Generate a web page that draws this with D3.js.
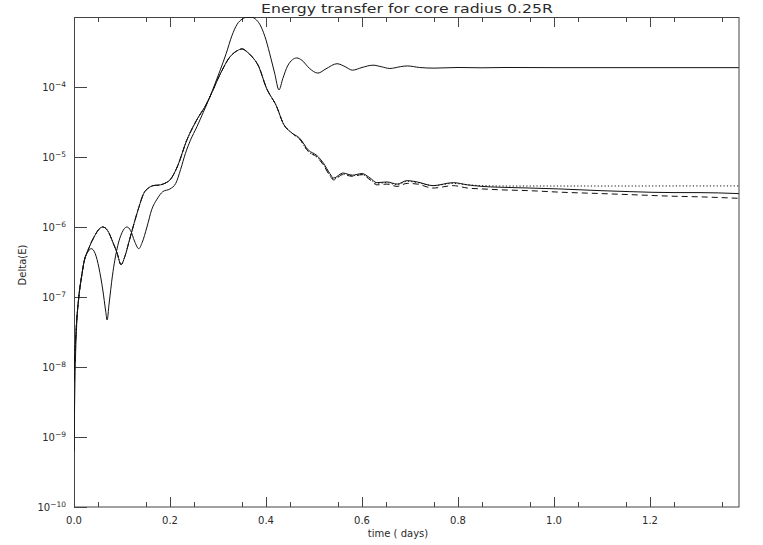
<!DOCTYPE html>
<html>
<head>
<meta charset="utf-8">
<script src="https://cdn.jsdelivr.net/npm/d3@7"></script>
<style>
  html, body { margin: 0; padding: 0; background: #fff; }
  svg { display: block; }
  text { font-family: "DejaVu Sans", sans-serif; fill: #2a2a2a; }
</style>
</head>
<body>
<svg id="chart" width="763" height="545"></svg>
<script>
// ---- data ----
const titleText = "Energy transfer for core radius 0.25R";
const xLabel = "time ( days)";
const yLabel = "Delta(E)";
const xTicksMajor = [0.0, 0.2, 0.4, 0.6, 0.8, 1.0, 1.2];
const xTickLabels = ["0.0", "0.2", "0.4", "0.6", "0.8", "1.0", "1.2"];
const yTicks = [1e-10, 1e-9, 1e-8, 1e-7, 1e-6, 1e-5, 1e-4];
const yTickExponents = ["-10", "-9", "-8", "-7", "-6", "-5", "-4"];

// upper solid curve
const tUpper = [0.000,0.002,0.005,0.010,0.016,0.021,0.028,0.036,0.044,0.052,0.060,0.066,0.069,0.073,0.080,0.090,0.100,0.110,0.118,0.126,0.135,0.142,0.152,0.162,0.173,0.185,0.200,0.212,0.222,0.232,0.242,0.256,0.269,0.283,0.294,0.304,0.317,0.329,0.340,0.350,0.360,0.370,0.380,0.390,0.400,0.410,0.418,0.427,0.435,0.445,0.455,0.464,0.475,0.490,0.508,0.525,0.548,0.565,0.580,0.600,0.623,0.640,0.658,0.680,0.694,0.720,0.750,0.800,0.850,0.900,1.000,1.100,1.200,1.300,1.385];
const eUpper = [6.3e-10,6.3e-9,3.2e-8,1.0e-7,2.0e-7,3.2e-7,4.3e-7,4.9e-7,4.2e-7,2.6e-7,1.26e-7,6.3e-8,4.7e-8,7.9e-8,2.0e-7,5.0e-7,8.3e-7,1.0e-6,8.9e-7,6.3e-7,4.9e-7,6.0e-7,1.0e-6,1.78e-6,2.5e-6,3.2e-6,3.5e-6,4.2e-6,6.6e-6,1.12e-5,1.7e-5,2.7e-5,4.3e-5,7.2e-5,1.12e-4,1.7e-4,3.0e-4,5.4e-4,7.9e-4,9.3e-4,9.9e-4,9.9e-4,9.1e-4,7.2e-4,4.7e-4,2.6e-4,1.58e-4,9.1e-5,1.32e-4,2.0e-4,2.45e-4,2.6e-4,2.4e-4,1.86e-4,1.58e-4,1.82e-4,2.15e-4,1.95e-4,1.74e-4,1.9e-4,2.05e-4,1.95e-4,1.84e-4,1.95e-4,2.0e-4,1.9e-4,1.86e-4,1.9e-4,1.88e-4,1.9e-4,1.89e-4,1.89e-4,1.89e-4,1.89e-4,1.89e-4];

// lower group: solid, dotted, dashed (shared times)
const tLower = [0.000,0.002,0.005,0.010,0.016,0.021,0.030,0.036,0.045,0.052,0.060,0.070,0.080,0.090,0.098,0.106,0.115,0.125,0.135,0.145,0.155,0.165,0.180,0.192,0.200,0.215,0.235,0.248,0.262,0.272,0.283,0.304,0.325,0.340,0.350,0.360,0.370,0.385,0.400,0.423,0.435,0.454,0.470,0.488,0.506,0.520,0.533,0.541,0.560,0.580,0.600,0.617,0.631,0.652,0.673,0.694,0.715,0.748,0.790,0.820,0.850,0.887,0.950,1.010,1.100,1.158,1.250,1.300,1.385];
const eLowerSolid = [6.3e-9,1.6e-8,4.0e-8,1.0e-7,2.0e-7,3.2e-7,4.8e-7,6.0e-7,7.9e-7,9.3e-7,1.0e-6,8.9e-7,6.3e-7,4.2e-7,2.9e-7,3.8e-7,6.3e-7,1.12e-6,1.9e-6,3.0e-6,3.6e-6,3.9e-6,4.0e-6,4.3e-6,4.7e-6,7.2e-6,1.74e-5,2.7e-5,4.0e-5,5.1e-5,7.2e-5,1.5e-4,2.7e-4,3.3e-4,3.5e-4,3.2e-4,2.75e-4,1.95e-4,1.0e-4,5.1e-5,3.1e-5,2.2e-5,1.86e-5,1.26e-5,1.05e-5,8.1e-6,5.8e-6,5.0e-6,5.9e-6,5.5e-6,5.8e-6,5.0e-6,4.3e-6,4.4e-6,4.1e-6,4.6e-6,4.4e-6,3.9e-6,4.3e-6,4.0e-6,3.8e-6,3.7e-6,3.6e-6,3.5e-6,3.3e-6,3.2e-6,3.1e-6,3.1e-6,3.0e-6];
const eLowerDotted = [6.3e-9,1.6e-8,4.0e-8,1.0e-7,2.0e-7,3.2e-7,4.8e-7,6.0e-7,7.9e-7,9.3e-7,1.0e-6,8.9e-7,6.3e-7,4.2e-7,2.9e-7,3.8e-7,6.3e-7,1.12e-6,1.9e-6,3.0e-6,3.6e-6,3.9e-6,4.0e-6,4.3e-6,4.7e-6,7.2e-6,1.74e-5,2.7e-5,4.0e-5,5.1e-5,7.2e-5,1.5e-4,2.7e-4,3.3e-4,3.5e-4,3.2e-4,2.75e-4,1.95e-4,1.0e-4,5.1e-5,3.1e-5,2.2e-5,1.8e-5,1.2e-5,1.0e-5,7.8e-6,5.5e-6,4.8e-6,5.7e-6,5.4e-6,5.6e-6,4.8e-6,4.2e-6,4.3e-6,4.0e-6,4.5e-6,4.3e-6,3.9e-6,4.2e-6,4.0e-6,3.9e-6,3.85e-6,3.85e-6,3.85e-6,3.85e-6,3.85e-6,3.86e-6,3.86e-6,3.86e-6];
const eLowerDashed = [6.3e-9,1.6e-8,4.0e-8,1.0e-7,2.0e-7,3.2e-7,4.8e-7,6.0e-7,7.9e-7,9.3e-7,1.0e-6,8.9e-7,6.3e-7,4.2e-7,2.9e-7,3.8e-7,6.3e-7,1.12e-6,1.9e-6,3.0e-6,3.6e-6,3.9e-6,4.0e-6,4.3e-6,4.7e-6,7.2e-6,1.74e-5,2.7e-5,4.0e-5,5.1e-5,7.2e-5,1.5e-4,2.7e-4,3.3e-4,3.5e-4,3.2e-4,2.75e-4,1.95e-4,1.0e-4,5.1e-5,3.1e-5,2.2e-5,1.8e-5,1.2e-5,1.0e-5,7.6e-6,5.4e-6,4.7e-6,5.6e-6,5.3e-6,5.6e-6,4.7e-6,4.0e-6,4.1e-6,3.8e-6,4.2e-6,4.1e-6,3.6e-6,3.9e-6,3.6e-6,3.5e-6,3.4e-6,3.3e-6,3.15e-6,3.0e-6,2.9e-6,2.75e-6,2.7e-6,2.57e-6];

// ---- layout ----
const W = 763, H = 545;
const margin = { left: 74, top: 17, right: 24, bottom: 38 };
const pw = W - margin.left - margin.right;
const ph = H - margin.top - margin.bottom;

const svg = d3.select("#chart");
const g = svg.append("g").attr("transform", `translate(${margin.left},${margin.top})`);

const x = d3.scaleLinear().domain([0, 1.3854]).range([0, pw]);
const y = d3.scaleLog().domain([1e-10, 1e-3]).range([ph, 0]);

// clip
svg.append("defs").append("clipPath").attr("id", "clip")
  .append("rect").attr("x", 0).attr("y", 0).attr("width", pw).attr("height", ph);

// minor x ticks
const xMinor = d3.range(0.05, 1.3854, 0.1).map(v => +v.toFixed(2));
const axisCol = "#444";

// bottom axis
const xAxisB = d3.axisBottom(x).tickValues(xTicksMajor).tickSize(-10).tickFormat(() => "");
const gxb = g.append("g").attr("transform", `translate(0,${ph})`).call(xAxisB);
const xAxisBm = d3.axisBottom(x).tickValues(xMinor).tickSize(-5).tickFormat(() => "");
const gxbm = g.append("g").attr("transform", `translate(0,${ph})`).call(xAxisBm);
// top axis
const xAxisT = d3.axisTop(x).tickValues(xTicksMajor).tickSize(-10).tickFormat(() => "");
const gxt = g.append("g").call(xAxisT);
const xAxisTm = d3.axisTop(x).tickValues(xMinor).tickSize(-5).tickFormat(() => "");
const gxtm = g.append("g").call(xAxisTm);
// left axis
const yAxisL = d3.axisLeft(y).tickValues(yTicks).tickSize(-13).tickFormat(() => "");
const gyl = g.append("g").call(yAxisL);

[gxb, gxbm, gxt, gxtm, gyl].forEach(s => {
  s.select(".domain").remove();
  s.selectAll(".tick line").attr("stroke", axisCol).attr("stroke-width", 1);
  s.selectAll(".tick text").remove();
});

// frame
g.append("rect").attr("x", 0.5).attr("y", 0.5).attr("width", pw - 0.5).attr("height", ph - 0.5)
  .attr("fill", "none").attr("stroke", axisCol).attr("stroke-width", 1);

// x tick labels
g.append("g").selectAll("text").data(xTicksMajor).join("text")
  .attr("x", d => x(d)).attr("y", ph + 17)
  .attr("text-anchor", "middle").attr("font-size", 10)
  .text((d, i) => xTickLabels[i]);

// y tick labels with superscript
const yl = g.append("g").selectAll("text").data(yTicks).join("text")
  .attr("x", -8).attr("y", d => y(d) + 3.5)
  .attr("text-anchor", "end").attr("font-size", 10);
yl.append("tspan").text("10");
yl.append("tspan").attr("dy", -4).attr("font-size", 7.5).text((d, i) => yTickExponents[i].replace("-", "\u2212"));

// curves
const line = d3.line().x(d => x(d[0])).y(d => y(d[1])).curve(d3.curveMonotoneX);
const plot = g.append("g").attr("clip-path", "url(#clip)");
const series = [
  { t: tUpper, e: eUpper, dash: null },
  { t: tLower, e: eLowerDotted, dash: "1.2,2.2" },
  { t: tLower, e: eLowerDashed, dash: "6,4" },
  { t: tLower, e: eLowerSolid, dash: null }
];
series.forEach(s => {
  plot.append("path")
    .datum(s.t.map((t, i) => [t, s.e[i]]))
    .attr("d", line)
    .attr("fill", "none")
    .attr("stroke", "#111")
    .attr("stroke-width", 1)
    .attr("stroke-dasharray", s.dash);
});

// title
svg.append("text").attr("x", 407).attr("y", 13)
  .attr("text-anchor", "middle").attr("font-size", 12.5)
  .attr("textLength", 292).attr("lengthAdjust", "spacingAndGlyphs")
  .text(titleText);

// x label
svg.append("text").attr("x", 398).attr("y", 537)
  .attr("text-anchor", "middle").attr("font-size", 10)
  .text(xLabel);

// y label
svg.append("text").attr("transform", "translate(26,265) rotate(-90)")
  .attr("text-anchor", "middle").attr("font-size", 10)
  .text(yLabel);
</script>
</body>
</html>
